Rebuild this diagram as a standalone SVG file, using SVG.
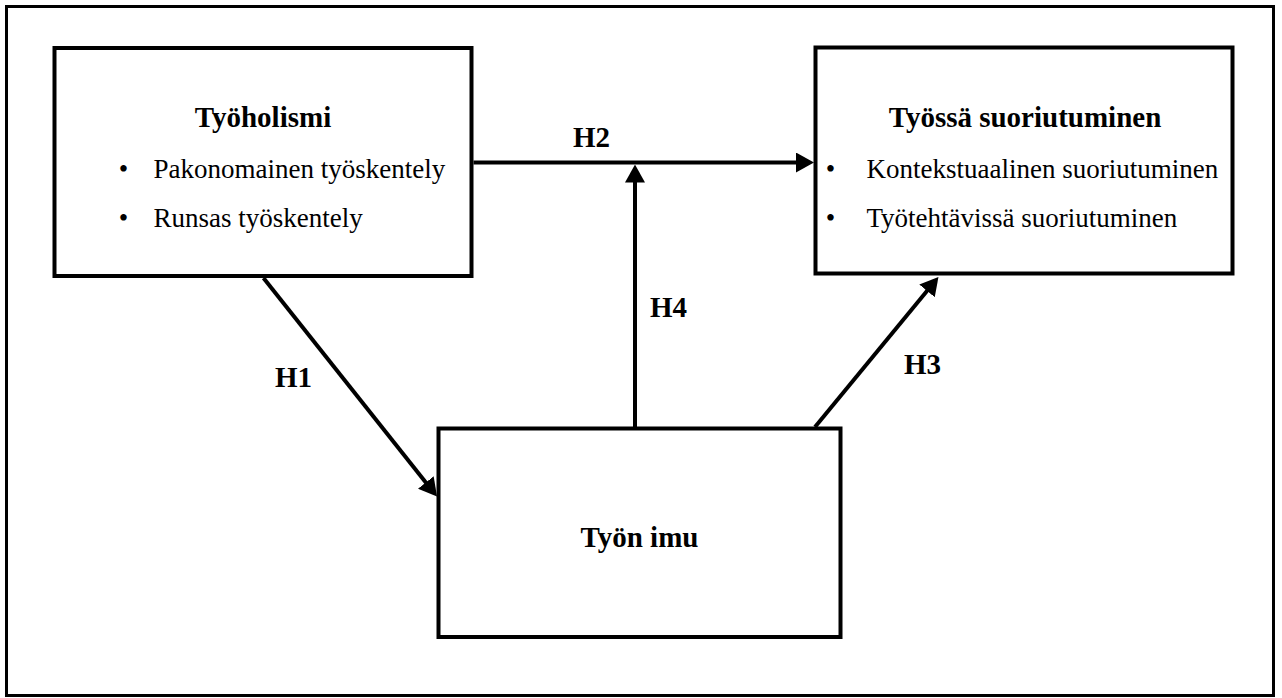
<svg xmlns="http://www.w3.org/2000/svg" width="1282" height="698" viewBox="0 0 1282 698">
<style>
.box{fill:#fff;stroke:#000;stroke-width:4}
.frame{fill:#fff;stroke:#000;stroke-width:3}
.conn{fill:none;stroke:#000;stroke-width:4}
.t{font-family:"Liberation Serif","Times New Roman",serif;fill:#000}
.b{font-weight:bold;font-size:29px}
.r{font-size:27px}
</style>
<defs>
<marker id="arr" markerUnits="userSpaceOnUse" markerWidth="18" markerHeight="20" refX="8" refY="10" orient="auto" viewBox="0 0 18 20">
<path d="M0,0 L18,10 L0,20 z" fill="#000"/>
</marker>
</defs>
<rect class="frame" x="6.5" y="6.5" width="1267" height="689"/>
<g id="connectors">
<path class="conn" d="M473.5,162.5 L804,162.5" marker-end="url(#arr)"/>
<path class="conn" d="M635,427 L635,174.5" marker-end="url(#arr)"/>
<path class="conn" d="M263.5,278 L430.8,488.7" marker-end="url(#arr)"/>
<path class="conn" d="M815,427 L932.1,284.7" marker-end="url(#arr)"/>
<text class="t b" x="573" y="147">H2</text>
<text class="t b" x="650" y="317">H4</text>
<text class="t b" x="275" y="387">H1</text>
<text class="t b" x="904" y="374">H3</text>
</g>
<g id="tyoholismi">
<rect class="box" x="54.5" y="48" width="417" height="228"/>
<text class="t b" x="263" y="127" text-anchor="middle">Työholismi</text>
<text class="t r" x="123.5" y="177.5" text-anchor="middle">•</text>
<text class="t r" x="153.5" y="177.5">Pakonomainen työskentely</text>
<text class="t r" x="123.5" y="226.5" text-anchor="middle">•</text>
<text class="t r" x="153.5" y="226.5">Runsas työskentely</text>
</g>
<g id="suoriutuminen">
<rect class="box" x="815.5" y="47.5" width="417" height="226"/>
<text class="t b" x="1025" y="127" text-anchor="middle">Työssä suoriutuminen</text>
<text class="t r" x="830.5" y="178" text-anchor="middle">•</text>
<text class="t r" x="866.5" y="178">Kontekstuaalinen suoriutuminen</text>
<text class="t r" x="830.5" y="226.5" text-anchor="middle">•</text>
<text class="t r" x="866.5" y="226.5">Työtehtävissä suoriutuminen</text>
</g>
<g id="tyon-imu">
<rect class="box" x="438.5" y="428.5" width="402" height="208.5"/>
<text class="t b" x="639.5" y="546.5" text-anchor="middle">Työn imu</text>
</g>
</svg>
